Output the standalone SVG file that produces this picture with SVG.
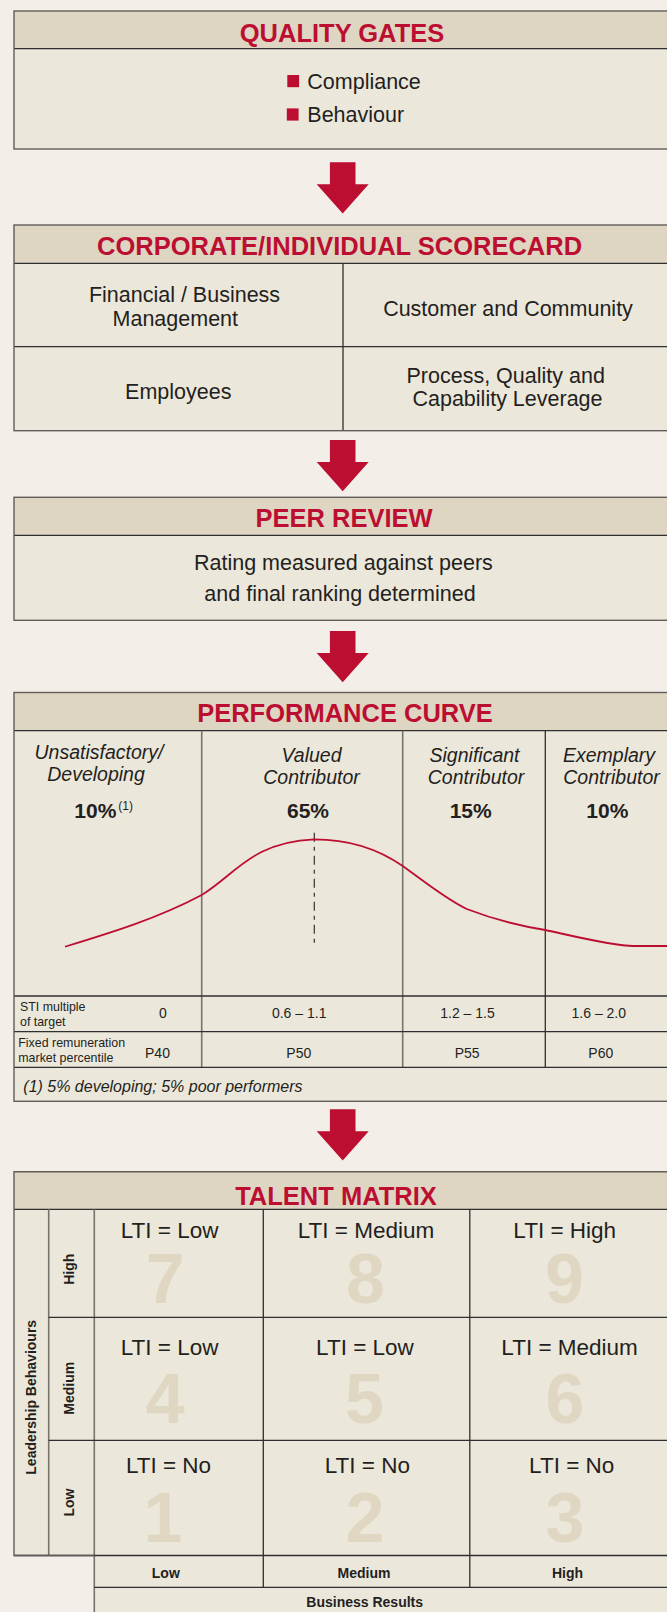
<svg xmlns="http://www.w3.org/2000/svg" width="667" height="1612" viewBox="0 0 667 1612">
<defs>
<style>
.fb{fill:#ece7db}
.fh{fill:#ded6c2}
.frame{fill:none;stroke:#615d58;stroke-width:1.4}
.ln{stroke:#2f2f2f;stroke-width:1.3;fill:none}
.lg{stroke:#77736d;stroke-width:1.6;fill:none}
.title{font-family:"Liberation Sans",Arial,sans-serif;font-weight:bold;font-size:25.5px;fill:#bc0e31;text-anchor:middle}
.t{font-family:"Liberation Sans",Arial,sans-serif;font-size:21.5px;fill:#231f20;text-anchor:middle}
.ts{font-family:"Liberation Sans",Arial,sans-serif;font-size:21.5px;fill:#231f20}
.ti{font-family:"Liberation Sans",Arial,sans-serif;font-style:italic;font-size:19.5px;fill:#231f20;text-anchor:middle}
.pct{font-family:"Liberation Sans",Arial,sans-serif;font-weight:bold;font-size:21px;fill:#231f20;text-anchor:middle}
.sup{font-family:"Liberation Sans",Arial,sans-serif;font-size:12px;fill:#231f20}
.sm{font-family:"Liberation Sans",Arial,sans-serif;font-size:12.4px;fill:#231f20}
.val{font-family:"Liberation Sans",Arial,sans-serif;font-size:14px;fill:#231f20;text-anchor:middle}
.fn{font-family:"Liberation Sans",Arial,sans-serif;font-style:italic;font-size:16px;fill:#231f20}
.lti{font-family:"Liberation Sans",Arial,sans-serif;font-size:22.5px;fill:#231f20;text-anchor:middle}
.big{font-family:"Liberation Sans Narrow","Liberation Sans",Arial,sans-serif;font-weight:bold;font-size:70px;fill:#e0d7c3;text-anchor:middle}
.ax{font-family:"Liberation Sans",Arial,sans-serif;font-weight:bold;font-size:14px;fill:#231f20;text-anchor:middle}
.bul{fill:#bc0e31}
</style>
<path id="arrow" d="M-12.8,0 h25.6 v22 h13.2 l-26,29.3 l-26,-29.3 h13.2 z" fill="#bc0e31"/>
</defs>
<rect x="0" y="0" width="667" height="1612" fill="#f3efe8"/>

<g id="quality-gates">
<rect class="fb" x="14" y="11" width="680" height="138"/>
<rect class="fh" x="14" y="11" width="680" height="37.7"/>
<line class="ln" x1="14" y1="48.7" x2="694" y2="48.7"/>
<rect class="frame" x="14" y="11" width="680" height="138"/>
<text class="title" x="342" y="42.3">QUALITY GATES</text>
<rect class="bul" x="287.3" y="75" width="11.8" height="12.2"/>
<text class="ts" x="307.3" y="88.7">Compliance</text>
<rect class="bul" x="286.8" y="108.4" width="11.8" height="12.2"/>
<text class="ts" x="307.3" y="122">Behaviour</text>
</g>

<g id="scorecard">
<rect class="fb" x="14" y="225" width="680" height="205.7"/>
<rect class="fh" x="14" y="225" width="680" height="38.3"/>
<line class="ln" x1="14" y1="263.3" x2="694" y2="263.3"/>
<line class="ln" x1="14" y1="346.7" x2="694" y2="346.7"/>
<line class="ln" x1="343" y1="263.3" x2="343" y2="430.7"/>
<rect class="frame" x="14" y="225" width="680" height="205.7"/>
<text class="title" x="339.6" y="255">CORPORATE/INDIVIDUAL SCORECARD</text>
<text class="t" x="184.5" y="301.7">Financial / Business</text>
<text class="t" x="175.3" y="326">Management</text>
<text class="t" x="508" y="316">Customer and Community</text>
<text class="t" x="178.3" y="399">Employees</text>
<text class="t" x="505.7" y="383">Process, Quality and</text>
<text class="t" x="507.5" y="405.7">Capability Leverage</text>
</g>

<g id="peer-review">
<rect class="fb" x="14" y="497.3" width="680" height="123"/>
<rect class="fh" x="14" y="497.3" width="680" height="38"/>
<line class="ln" x1="14" y1="535.3" x2="694" y2="535.3"/>
<rect class="frame" x="14" y="497.3" width="680" height="123"/>
<text class="title" x="344" y="526.7">PEER REVIEW</text>
<text class="t" x="343.4" y="570">Rating measured against peers</text>
<text class="t" x="340" y="600.7">and final ranking determined</text>
</g>

<g id="performance-curve">
<rect class="fb" x="14" y="692.5" width="680" height="408.8"/>
<rect class="fh" x="14" y="692.5" width="680" height="38.2"/>
<line class="ln" x1="14" y1="730.7" x2="694" y2="730.7"/>
<line class="lg" x1="201.7" y1="730.7" x2="201.7" y2="1067.3"/>
<line class="lg" x1="402.7" y1="730.7" x2="402.7" y2="1067.3"/>
<line class="ln" x1="545.3" y1="730.7" x2="545.3" y2="1067.3"/>
<line class="ln" x1="14" y1="996" x2="694" y2="996"/>
<line class="ln" x1="14" y1="1031.7" x2="694" y2="1031.7"/>
<line class="ln" x1="14" y1="1067.3" x2="694" y2="1067.3"/>
<rect class="frame" x="14" y="692.5" width="680" height="408.8"/>
<text class="title" x="345" y="722.3">PERFORMANCE CURVE</text>
<text class="ti" x="99" y="759.3">Unsatisfactory/</text>
<text class="ti" x="96" y="781">Developing</text>
<text class="ti" x="311.5" y="762.3">Valued</text>
<text class="ti" x="311.5" y="784">Contributor</text>
<text class="ti" x="474.5" y="762.3">Significant</text>
<text class="ti" x="476" y="784">Contributor</text>
<text class="ti" x="609" y="762.3">Exemplary</text>
<text class="ti" x="611.5" y="784">Contributor</text>
<text class="pct" x="95.3" y="817.7">10%</text>
<text class="sup" x="118.3" y="809.5">(1)</text>
<text class="pct" x="308" y="817.7">65%</text>
<text class="pct" x="470.7" y="817.7">15%</text>
<text class="pct" x="607.3" y="817.7">10%</text>
<line x1="314.3" y1="832.7" x2="314.3" y2="947.3" stroke="#333" stroke-width="1.2" stroke-dasharray="9 5 4 5"/>
<path d="M65,946.7 C110,933 156.7,918.9 201.7,895 C236,874 252,842 314.3,839.3 C349.3,839.3 377.7,848.5 402.7,866 C423.7,881 445.7,899 466.7,909 C490,918 520,926 545.3,930 C575.3,936.5 613.3,946 633.3,946 L667,946" fill="none" stroke="#bc0e31" stroke-width="1.8"/>
<text class="sm" x="20" y="1011">STI multiple</text>
<text class="sm" x="20" y="1025.5">of target</text>
<text class="val" x="163" y="1018.3">0</text>
<text class="val" x="299.2" y="1018.3">0.6 – 1.1</text>
<text class="val" x="467.5" y="1018.3">1.2 – 1.5</text>
<text class="val" x="598.8" y="1018.3">1.6 – 2.0</text>
<text class="sm" x="18.3" y="1047.3">Fixed remuneration</text>
<text class="sm" x="18.3" y="1062">market percentile</text>
<text class="val" x="157.5" y="1058.3">P40</text>
<text class="val" x="298.8" y="1058.3">P50</text>
<text class="val" x="467.2" y="1058.3">P55</text>
<text class="val" x="600.8" y="1058.3">P60</text>
<text class="fn" x="23.3" y="1091.7">(1) 5% developing; 5% poor performers</text>
</g>

<g id="talent-matrix">
<rect class="fb" x="14" y="1171.7" width="680" height="383.8"/>
<rect class="fb" x="94.3" y="1555.5" width="600" height="70"/>
<rect class="fh" x="14" y="1171.7" width="680" height="37.6"/>
<line class="ln" x1="14" y1="1209.3" x2="694" y2="1209.3"/>
<line class="lg" x1="48.7" y1="1209.3" x2="48.7" y2="1555.5"/>
<line class="lg" x1="94.3" y1="1209.3" x2="94.3" y2="1620"/>
<line class="ln" x1="263.3" y1="1209.3" x2="263.3" y2="1587.3"/>
<line class="ln" x1="469.8" y1="1209.3" x2="469.8" y2="1587.3"/>
<line class="ln" x1="48.7" y1="1317.3" x2="694" y2="1317.3"/>
<line class="ln" x1="48.7" y1="1440.3" x2="694" y2="1440.3"/>
<line class="ln" x1="14" y1="1555.5" x2="694" y2="1555.5"/>
<line class="ln" x1="94.3" y1="1587.3" x2="694" y2="1587.3"/>
<path class="frame" d="M694,1171.7 H14 V1555.5 H94.3"/>
<text class="title" x="336" y="1205">TALENT MATRIX</text>
<text class="ax" transform="translate(35.5,1397.3) rotate(-90)">Leadership Behaviours</text>
<text class="ax" transform="translate(73.5,1269.3) rotate(-90)">High</text>
<text class="ax" transform="translate(73.5,1388.3) rotate(-90)">Medium</text>
<text class="ax" transform="translate(73.5,1502.5) rotate(-90)">Low</text>
<text class="big" x="165.3" y="1303.3">7</text>
<text class="big" x="365.5" y="1303.3">8</text>
<text class="big" x="564.5" y="1303.3">9</text>
<text class="big" x="165.3" y="1423.3">4</text>
<text class="big" x="364.5" y="1423.3">5</text>
<text class="big" x="565" y="1423.3">6</text>
<text class="big" x="163" y="1541.7">1</text>
<text class="big" x="365" y="1541.7">2</text>
<text class="big" x="565" y="1541.7">3</text>
<text class="lti" x="169.6" y="1238.3">LTI = Low</text>
<text class="lti" x="366" y="1238.3">LTI = Medium</text>
<text class="lti" x="564.7" y="1238.3">LTI = High</text>
<text class="lti" x="169.6" y="1355">LTI = Low</text>
<text class="lti" x="365" y="1355">LTI = Low</text>
<text class="lti" x="569.6" y="1355">LTI = Medium</text>
<text class="lti" x="168.5" y="1473.3">LTI = No</text>
<text class="lti" x="367.4" y="1473.3">LTI = No</text>
<text class="lti" x="571.7" y="1473.3">LTI = No</text>
<text class="ax" x="165.8" y="1577.7">Low</text>
<text class="ax" x="364" y="1577.7">Medium</text>
<text class="ax" x="567.5" y="1577.7">High</text>
<text class="ax" x="364.7" y="1607">Business Results</text>
</g>

<g id="connectors">
<use href="#arrow" x="342.7" y="162.3"/>
<use href="#arrow" x="342.7" y="440"/>
<use href="#arrow" x="342.7" y="631"/>
<use href="#arrow" x="342.7" y="1109.3"/>
</g>
</svg>
